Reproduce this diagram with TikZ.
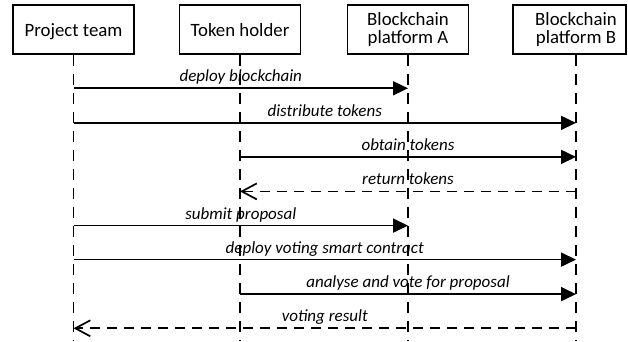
\documentclass[tikz,border=0pt]{standalone}
\usepackage{fontspec}
\setmainfont{Carlito}
\usetikzlibrary{arrows.meta, positioning}

\begin{document}
\begin{tikzpicture}[x=1pt, y=-1pt, line width=1.7pt,
  every node/.style={font=\fontsize{18.8}{17.6}\selectfont},
  actor/.style={draw, line width=1.7pt, minimum width=121pt, minimum height=49pt, inner sep=2pt, align=center},
  single/.style={text height=16pt, text depth=3pt},
  life/.style={dash pattern=on 11pt off 8pt},
  msg/.style={-{Triangle[length=15pt, width=14pt]}},
  ret/.style={dash pattern=on 10pt off 7pt, -{Straight Barb[length=15pt, width=16pt]}},
  lbl/.style={font=\itshape\fontsize{17}{20}\selectfont, anchor=base, yshift=6.5pt}]
  \useasboundingbox (0,0) rectangle (628,341);

  % participants
  \node[actor, single] (team) at (73.5,29.5) {Project team};
  \node[actor, single] (holder) at (240,29.5) {Token holder};
  \node[actor] (pa) at (408,29.5) {Blockchain\\platform A};
  \node[actor, minimum width=113pt] (pb) at (569.5,29.5) {\hspace*{13pt}Blockchain\\\hspace*{13pt}platform B};
  \coordinate (lb) at ([xshift=6.5pt]pb.south);
  \coordinate (bottom) at (0,341);

  % lifelines
  \draw[life] (team.south) -- (team.south |- bottom);
  \draw[life] (holder.south) -- (holder.south |- bottom);
  \draw[life] (pa.south) -- (pa.south |- bottom);
  \draw[life] (lb) -- (lb |- bottom);

  % rows of the messages
  \coordinate (m1) at (0,88.3);
  \coordinate (m2) at (0,122.9);
  \coordinate (m3) at (0,156.9);
  \coordinate (m4) at (0,191.4);
  \coordinate (m5) at (0,225.6);
  \coordinate (m6) at (0,259.6);
  \coordinate (m7) at (0,294.1);
  \coordinate (m8) at (0,328.3);

  % messages
  \draw[msg] (team |- m1) -- (pa |- m1) node[lbl, midway] {deploy blockchain};
  \draw[msg] (team |- m2) -- (lb |- m2) node[lbl, midway] {distribute tokens};
  \draw[msg] (holder |- m3) -- (lb |- m3) node[lbl, midway] {obtain tokens};
  \draw[ret] (lb |- m4) -- (holder |- m4) node[lbl, midway] {return tokens};
  \draw[msg] (team |- m5) -- (pa |- m5) node[lbl, midway] {submit proposal};
  \draw[msg] (team |- m6) -- (lb |- m6) node[lbl, midway] {deploy voting smart contract};
  \draw[msg] (holder |- m7) -- (lb |- m7) node[lbl, midway] {analyse and vote for proposal};
  \draw[ret] (lb |- m8) -- (team |- m8) node[lbl, midway] {voting result};
\end{tikzpicture}
\end{document}
